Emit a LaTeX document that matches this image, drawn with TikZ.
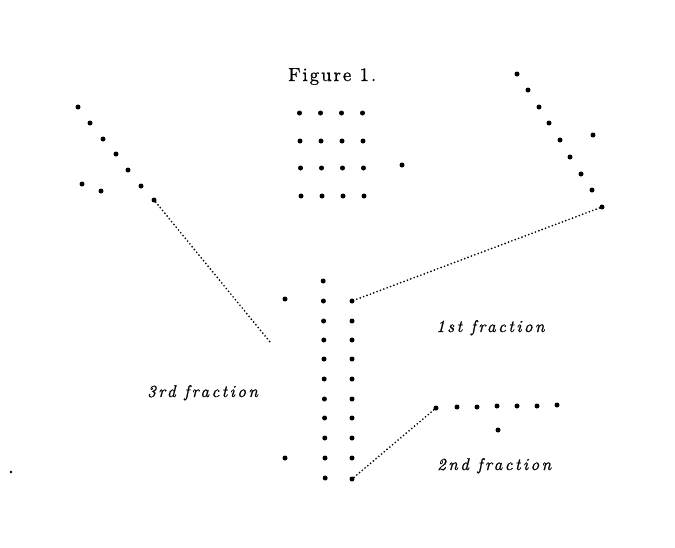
\documentclass[tikz,border=0pt]{standalone}
\usepackage{fontspec}
\newfontfamily\labfont{lmroman10-italic.otf}[LetterSpace=14,FakeBold=0.8]
\newfontfamily\ttlfont{lmroman10-regular.otf}[LetterSpace=10,FakeBold=0.8]
\begin{document}
\begin{tikzpicture}[x=1pt,y=-1pt,
  dotpt/.style={circle, fill=black, inner sep=0pt, minimum size=5pt},
  speck/.style={circle, fill=black, inner sep=0pt, minimum size=2.8pt},
  conn/.style={line width=1.9pt, dash pattern=on 0pt off 3.6pt, line cap=round},
  lab/.style={anchor=base west, inner sep=0pt, font=\labfont\fontsize{17}{20}\selectfont},
  ttl/.style={anchor=base west, inner sep=0pt, font=\ttlfont\fontsize{19}{21}\selectfont}]
\useasboundingbox (0,0) rectangle (675,547);
% title
\node[ttl] (title) at (288,81) {Figure 1.};
% top grid
\foreach \c/\x in {1/299,2/320,3/341,4/362}
  \foreach \r/\y in {1/113,2/141,3/168,4/196}
    \node[dotpt] (g\r\c) at ({\x+0.5*\r},\y) {};
\node[dotpt] (gx) at (402,165) {};
% left cluster
\foreach \i/\x/\y in {1/78/107,2/90/123,3/103/139,4/116/154,5/128/170,6/141/186,7/154/200}
  \node[dotpt] (l\i) at (\x,\y) {};
\node[dotpt] (la) at (82,184) {};
\node[dotpt] (lb) at (101,191) {};
% right cluster
\foreach \i/\x/\y in {1/517/74,2/528/90,3/539/107,4/549/123,5/560/140,6/570/157,7/581/174,8/592/190,9/602/207}
  \node[dotpt] (r\i) at (\x,\y) {};
\node[dotpt] (ra) at (593,135) {};
% stem
\foreach \i/\y in {1/281,2/301,3/321,4/340,5/359,6/379,7/399,8/418,9/438,10/458,11/478}
  \node[dotpt] (s\i) at ({323+0.2*\i},\y) {};
\foreach \i/\y in {1/301,2/321,3/340,4/359,5/379,6/399,7/418,8/438,9/458,10/479}
  \node[dotpt] (t\i) at (352,\y) {};
\node[dotpt] (sa) at (285,299) {};
\node[dotpt] (sb) at (285,458) {};
\coordinate (tip3) at (270,342);
% second fraction row
\foreach \i/\x/\y in {1/436/408,2/457/407,3/477/407,4/497/406,5/517/406,6/537/406,7/557/405}
  \node[dotpt] (b\i) at (\x,\y) {};
\node[dotpt] (ba) at (498,430) {};
% stray speck
\node[speck] (sp) at (11,472) {};
% connectors
\draw[conn] (l7) -- (tip3);
\draw[conn] (r9) -- (t1);
\draw[conn] (t10) -- (b1);
% labels
\node[lab] (f1) at (436,332) {1st fraction};
\node[lab] (f2) at (437,470) {2nd fraction};
\node[lab] (f3) at (147,397) {3rd fraction};
\end{tikzpicture}
\end{document}
